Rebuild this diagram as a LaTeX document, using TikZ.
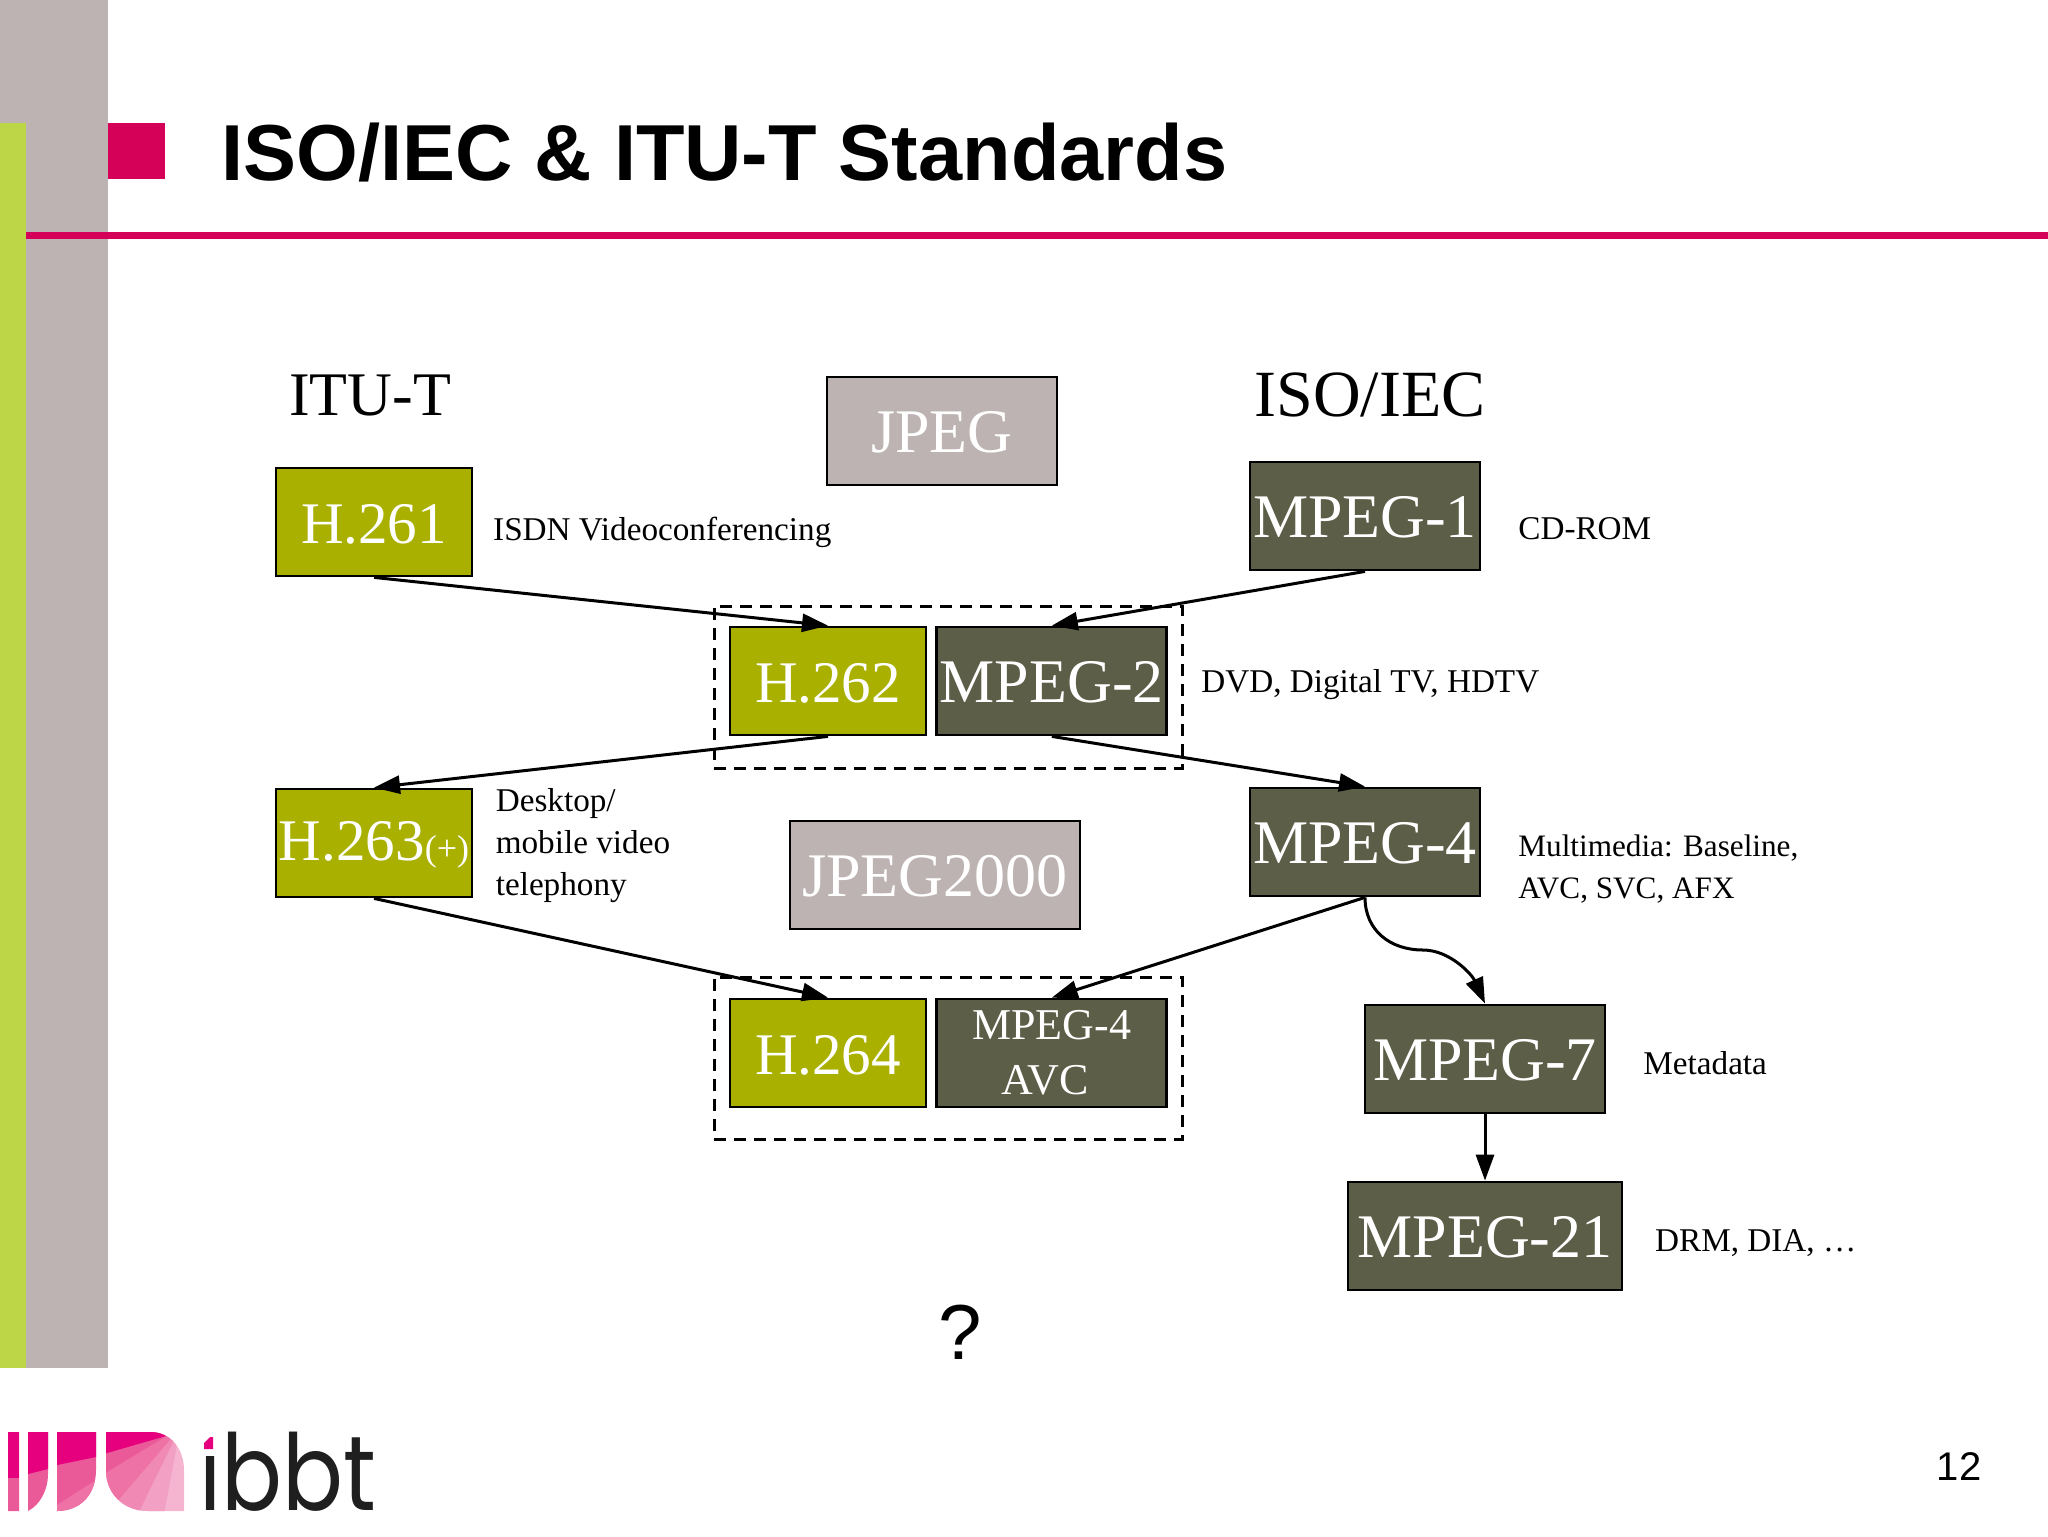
\documentclass[tikz,border=0pt]{standalone}
\usepackage{fontspec}
\setmainfont{Liberation Serif}
\newfontfamily\slidefont{Liberation Sans}
\newfontfamily\logofont{Poppins}
\usepackage{tikz}
\usetikzlibrary{arrows.meta,positioning}
\definecolor{sidegray}{HTML}{BEB3B3}
\definecolor{sidegreen}{HTML}{BDD648}
\definecolor{slidered}{HTML}{D50057}
\definecolor{ituolive}{HTML}{A9B000}
\definecolor{isodark}{HTML}{5C5E47}
\definecolor{logoa}{HTML}{E6007E}
\definecolor{logob}{HTML}{EA5A98}
\definecolor{logoc}{HTML}{EE72A6}
\definecolor{logod}{HTML}{F08AB5}
\definecolor{logoe}{HTML}{F2A0C3}
\definecolor{logof}{HTML}{F5B5D0}
\tikzset{
    %Define standard arrow tip
    >={Stealth[inset=0pt,length=13pt,width=9pt]},
    %Define style for boxes
    stdbox/.style={
           rectangle,
           draw=black, line width=1.4pt,
           inner sep=0pt,
           minimum height=54pt,
           text=white,
           text height=21.8pt,
           font=\fontsize{31}{33}\selectfont,
           text centered},
    itubox/.style={stdbox, fill=ituolive, font=\fontsize{29.5}{33}\selectfont},
    isobox/.style={stdbox, fill=isodark},
    jpegbox/.style={stdbox, fill=sidegray},
    groupbox/.style={
           rectangle,
           draw=black, line width=1.5pt,
           dash pattern=on 6pt off 4pt,
           minimum width=234pt,
           minimum height=81pt},
    note/.style={font=\fontsize{16.6}{21}\selectfont, align=left, inner sep=0pt},
    header/.style={font=\fontsize{31}{34}\selectfont, inner sep=0pt},
    % Define arrow style
    pil/.style={->, line width=1.5pt}
}
\begin{document}
\begin{tikzpicture}[x=0.5pt,y=-0.5pt]
\useasboundingbox (0,0) rectangle (2048,1536);

 %slide frame
\fill[sidegray] (0,0) rectangle (108,1368);
\fill[sidegreen] (0,123) rectangle (26,1368);
\fill[slidered] (108,123) rectangle (165,179);
\fill[slidered] (26,232) rectangle (2048,239);
\node[anchor=west, inner sep=0pt, font=\slidefont\bfseries\fontsize{39.7}{44}\selectfont] (title) at (221,153) {ISO/IEC \& ITU-T Standards};

 %logo
\begin{scope}
\clip (8,1432) rectangle (19,1511)
      (28,1432) -- (48,1432) -- (48,1474) .. controls (48,1490) and (40,1505) .. (28,1511) -- cycle
      (57,1432) -- (96,1432) -- (96,1470) .. controls (96,1495) and (80,1511) .. (57,1511) -- cycle
      (106,1432) -- (150,1432) .. controls (170,1432) and (184,1448) .. (184,1470) -- (184,1511) -- (148,1511) .. controls (124,1511) and (106,1494) .. (106,1470) -- cycle;
\fill[logob] (0,1425) rectangle (100,1520);
\fill[logoa] (0,1425) rectangle (19,1478);
\fill[logoa] (28,1425) -- (48,1425) -- (48,1469) -- (28,1474) -- cycle;
\fill[logoa] (57,1425) -- (96,1425) -- (96,1457) -- (57,1465) -- cycle;
\fill[logoc] (57,1505) -- (96,1480) -- (96,1520) -- (57,1520) -- cycle;
\fill[logof] (106,1425) rectangle (190,1520);
\fill[logoe] (180,1428) -- (163,1520) -- (100,1520) -- (100,1428) -- cycle;
\fill[logod] (180,1428) -- (135,1520) -- (100,1520) -- (100,1428) -- cycle;
\fill[logoc] (180,1428) -- (110,1510) -- (100,1510) -- (100,1428) -- cycle;
\fill[logob] (180,1428) -- (100,1476) -- (100,1428) -- cycle;
\fill[logoa] (180,1432) -- (100,1455) -- (100,1425) -- (180,1425) -- cycle;
\end{scope}
\node[anchor=base west, inner sep=0pt, xscale=0.85, text=black!88, font=\logofont\fontsize{53}{53}\selectfont] (logotext) at (199,1510) {ibbt};
\fill[white] (199,1425) rectangle (218,1456);
\fill[logoa] (204,1449) -- (204,1443) -- (210,1437) -- (213,1437) -- (213,1449) -- cycle;

 %nodes
\node[groupbox] (group2) at (948,687) {};
\node[groupbox] (group4) at (948,1058) {};

\node[header] (itu) at (370,395) {ITU-T};
\node[header, font=\fontsize{33}{34}\selectfont] (iso) at (1370,395) {ISO/IEC};

\node[jpegbox, minimum width=115pt] (jpeg) at (942,431) {JPEG};
\node[jpegbox, minimum width=145pt] (jpeg2000) at (935,875) {JPEG2000};

\node[itubox, minimum width=98pt] (h261) at (374,522) {H.261};
\node[isobox, minimum width=115pt] (mpeg1) at (1365,516) {MPEG-1};

\node[itubox, minimum width=98pt] (h262) at (828,681) {H.262};
\node[isobox, minimum width=115pt, right=4pt of h262] (mpeg2) {MPEG-2};

\node[itubox, minimum width=98pt] (h263) at (374,843) {H.263{\fontsize{18}{19}\selectfont(+)}};
\node[isobox, minimum width=115pt] (mpeg4) at (1365,842) {MPEG-4};

\node[itubox, minimum width=98pt] (h264) at (828,1053) {H.264};
\node[isobox, minimum width=115pt, right=4pt of h264, align=center, text height={}, font=\fontsize{22}{27.5}\selectfont] (avc) {MPEG-4\\AVC\kern7pt};

\node[isobox, minimum width=120pt] (mpeg7) at (1485,1059) {MPEG-7};
\node[isobox, minimum width=137pt] (mpeg21) at (1485,1236) {MPEG-21};

 %labels
\node[note, right=9.7pt of h261, yshift=-5pt] (isdn) {ISDN Videoconferencing};
\node[note, right=18.3pt of mpeg1, yshift=-6.5pt] (cdrom) {CD-ROM};
\node[note, right=16.4pt of mpeg2, yshift=-2pt] (dvd) {DVD, Digital TV, HDTV};
\node[note, right=11pt of h263, yshift=-1.3pt] (desktop) {Desktop/\\mobile video\\telephony};
\node[note, right=18.3pt of mpeg4, yshift=-13.7pt, font=\fontsize{15.6}{21}\selectfont] (multi) {Multimedia: Baseline,\\AVC, SVC, AFX};
\node[note, right=18.3pt of mpeg7, yshift=-2pt] (meta) {Metadata};
\node[note, right=15.7pt of mpeg21, yshift=-3.3pt] (drm) {DRM, DIA, \dots};

\node[inner sep=0pt, font=\slidefont\fontsize{39}{44}\selectfont] (question) at (960,1332) {?};
\node[inner sep=0pt, font=\slidefont\fontsize{20}{22}\selectfont] (page) at (1959,1467) {12};

 %edges
\coordinate (bend) at (1423,950);
\path[pil]
    (h261.south) edge (h262.north)
    (mpeg1.south) edge (mpeg2.north)
    (h262.south) edge (h263.north)
    (mpeg2.south) edge (mpeg4.north)
    (h263.south) edge (h264.north)
    (mpeg4.south) edge (avc.north)
    (mpeg7.south) edge (mpeg21.north);
\draw[pil] (mpeg4.south) .. controls +(0,33) and +(-33,0) .. (bend) .. controls +(27,0) and +(-13,-29) .. (mpeg7.north);

\end{tikzpicture}
\end{document}
